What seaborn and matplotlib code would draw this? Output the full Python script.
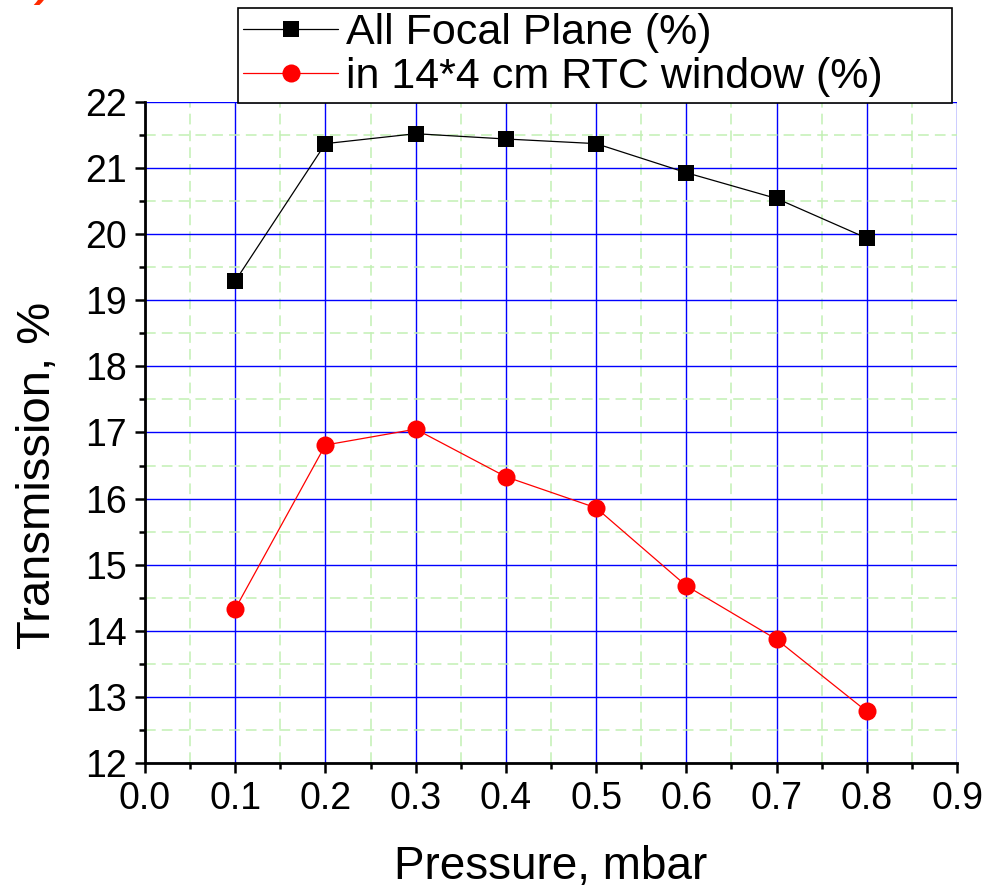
import numpy as np
import pandas as pd
import matplotlib
matplotlib.use("Agg")
import matplotlib.pyplot as plt
import seaborn as sns
from matplotlib.ticker import MultipleLocator, FormatStrFormatter

# values
pressure = [0.1, 0.2, 0.3, 0.4, 0.5, 0.6, 0.7, 0.8]
all_focal = [19.29, 21.37, 21.52, 21.44, 21.37, 20.93, 20.54, 19.94]
rtc_window = [14.33, 16.81, 17.05, 16.33, 15.86, 14.68, 13.87, 12.78]
labels = ["All Focal Plane (%)", "in 14*4 cm RTC window (%)"]

sns.set_theme(style="white")
plt.rcParams["font.family"] = ["Liberation Sans", "DejaVu Sans"]
plt.rcParams.update({"text.color": "black", "axes.labelcolor": "black",
                     "xtick.color": "black", "ytick.color": "black"})

fig = plt.figure(figsize=(9.86, 8.93), dpi=100)
ax = fig.add_axes([0.147, 0.1456, 0.8236, 0.7402])

df_a = pd.DataFrame({"p": pressure, "t": all_focal})
df_b = pd.DataFrame({"p": pressure, "t": rtc_window})
sns.lineplot(data=df_a, x="p", y="t", ax=ax, color="black", lw=0.9,
             marker="s", markersize=11.5, markeredgewidth=0, label=labels[0], zorder=5)
sns.lineplot(data=df_b, x="p", y="t", ax=ax, color="#ff0000", lw=0.9,
             marker="o", markersize=13, markeredgewidth=0, label=labels[1], zorder=5)

ax.set_xlim(0.0, 0.9)
ax.set_ylim(12, 22)
ax.xaxis.set_major_locator(MultipleLocator(0.1))
ax.xaxis.set_minor_locator(MultipleLocator(0.05))
ax.yaxis.set_major_locator(MultipleLocator(1))
ax.yaxis.set_minor_locator(MultipleLocator(0.5))
ax.xaxis.set_major_formatter(FormatStrFormatter("%.1f"))

ax.grid(which="major", color="#0000ff", lw=1.0, ls="-", zorder=1)
ax.grid(which="minor", color="#c2f0b4", lw=1.1, ls=(0, (7, 4)), zorder=0)
ax.set_axisbelow(True)
# topmost gridline sits under the legend in the reference
ax.get_ygridlines()[-1].set_visible(False)

for s in ["top", "right"]:
    ax.spines[s].set_visible(False)
for s in ["left", "bottom"]:
    ax.spines[s].set_color("black")
    ax.spines[s].set_linewidth(2.0)

ax.tick_params(which="major", direction="out", length=7, width=1.8, colors="black",
               labelsize=27, left=True, bottom=True, pad=6)
ax.tick_params(which="minor", direction="out", length=4.5, width=1.8, colors="black",
               left=True, bottom=True)

ax.set_xlabel("Pressure, mbar", fontsize=33, labelpad=20)
ax.set_ylabel("Transmission, %", fontsize=34)
ax.yaxis.set_label_coords(-0.105, 0.435)

x0, x1 = 238 / 986, 952 / 986
y0, y1 = 1 - 108 / 893, 1 - 8 / 893
leg = ax.legend(loc="upper left", bbox_to_anchor=(x0, y0, x1 - x0, y1 - y0),
                bbox_transform=fig.transFigure, mode="expand", fontsize=31,
                frameon=True, fancybox=False, edgecolor="black", framealpha=1,
                handlelength=2.2, handletextpad=0.2, borderpad=0.12,
                labelspacing=0.1, borderaxespad=0)
leg.get_frame().set_linewidth(1.2)
leg.set_zorder(10)

fig.text(12 / 986, 1 + 4 / 893, "b)", color="#ff2a00", fontsize=30,
         fontweight="bold", fontstyle="italic", va="baseline")

fig.savefig("out.png", dpi=100, facecolor="white")
